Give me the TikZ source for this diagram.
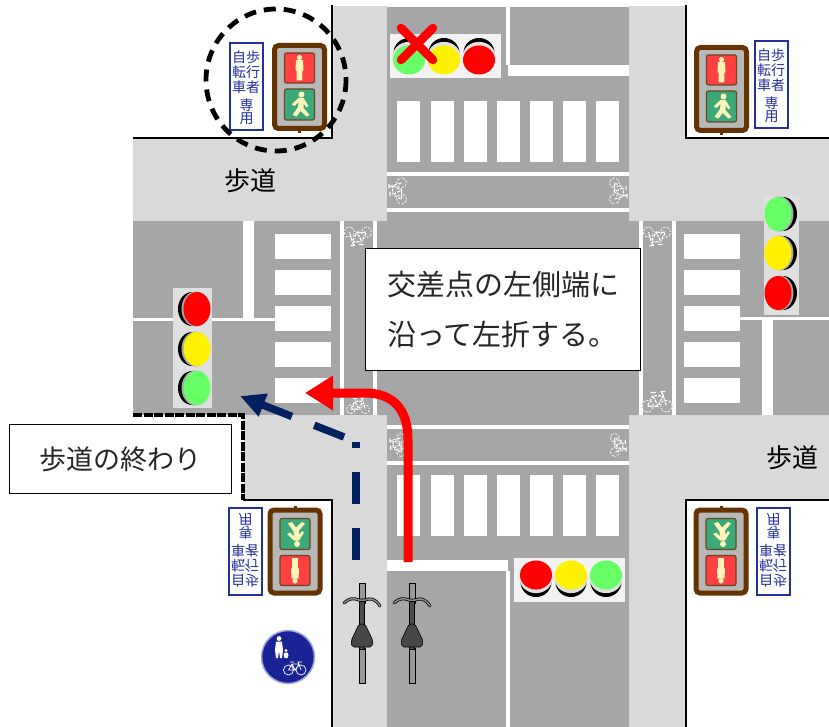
\documentclass[tikz,border=0pt]{standalone}
\usepackage{fontspec}
\newfontfamily\jp{Noto Sans CJK JP}
\usetikzlibrary{arrows.meta}
\definecolor{roadc}{HTML}{A6A6A6}
\definecolor{walkc}{HTML}{D9D9D9}
\definecolor{brownc}{HTML}{663300}
\definecolor{innerc}{HTML}{B8B8B8}
\definecolor{lampr}{HTML}{FF4040}
\definecolor{lampg}{HTML}{3CAA78}
\definecolor{creamc}{HTML}{FFF4B8}
\definecolor{signb}{HTML}{24309C}
\definecolor{navyc}{HTML}{002060}
\definecolor{greenl}{HTML}{66FF66}
\definecolor{discb}{HTML}{1A2396}
% horizontal signal lamp: x y colour dy
\newcommand{\lamph}[4]{%
  \fill[black] (#1,#2+#4) ellipse [x radius=15.5,y radius=15];
  \fill[white!88!black] (#1,#2+0.45*#4) ellipse [x radius=16.5,y radius=15];
  \fill[#3] (#1,#2) ellipse [x radius=16,y radius=14.5];
}
% vertical signal lamp: x y colour dx
\newcommand{\lampv}[4]{%
  \fill[black] (#1+#4,#2) ellipse [x radius=14,y radius=17];
  \fill[gray!70] (#1+0.3*#4,#2) ellipse [x radius=14,y radius=17.5];
  \fill[#3] (#1,#2) ellipse [x radius=13.5,y radius=17];
}
\tikzset{
  x=1pt,y=-1pt,
  roadfill/.style={fill=roadc},
  walkfill/.style={fill=walkc},
  paintfill/.style={fill=white},
  curb/.style={draw=black,line width=2.8pt,line join=miter},
  callout/.style={draw=black,line width=1.4pt,fill=white,text=black!85},
  sidewalk label/.style={font=\jp\fontsize{26}{30}\selectfont,text=black},
  signtext/.style={font=\jp\fontsize{14}{15}\selectfont,text=signb,align=center,inner sep=0pt},
  pics/cyc/.style={code={
    \draw[white,line width=.9pt,dash pattern=on 3pt off .7pt] (-9,4) circle (5.5) (9,4) circle (5.5);
    \draw[white,line width=1.2pt] (-9,4) -- (-4,-6) -- (6,-6) -- (9,4) (-4,-6) -- (1,4) -- (6,-6) (-9,4)--(1,4) (-6,-9)--(-1,-9) (6,-6)--(4,-10)--(8,-10);
    \draw[black!65,line width=.5pt,dash pattern=on 1pt off 3pt] (-9,4) circle (5.5) (9,4) circle (5.5) (-9,4) -- (-4,-6) -- (6,-6) -- (9,4) (-4,-6) -- (1,4) -- (6,-6);
  }},
  pics/pedsig/.style={code={
    \fill[brownc] (-1.5,43) rectangle (1.5,46);
    \draw[brownc,line width=5pt,fill=innerc,rounded corners=4pt] (-25,-41.5) rectangle (25,41.5);
    \draw[brownc!75!gray,line width=1.2pt,fill=lampr,rounded corners=2pt] (-15,-34) rectangle (15,-4);
    \draw[brownc!75!gray,line width=1.2pt,fill=lampg,rounded corners=2pt] (-15,2) rectangle (15,33);
    % standing figure
    \fill[creamc] (0,-29.5) circle (2.6);
    \fill[creamc] (-3.5,-27) -- (3.5,-27) -- (4,-17) -- (2.8,-16) -- (2.8,-6.5) -- (-2.8,-6.5) -- (-2.8,-16) -- (-4,-17) -- cycle;
    % walking figure
    \fill[creamc] (2,7.5) circle (3);
    \fill[creamc] (-1,11) -- (4,11) -- (9,19) -- (7,20.5) -- (4,16.5) -- (4,21) -- (10,28) -- (7,29.5) -- (1,24) -- (-3,29.5) -- (-7,28) -- (-1.5,20) -- (-1,15) -- (-5,19) -- (-8,17.5) -- cycle;
  }},
  pics/panel/.style={code={
    \draw[signb,line width=1.4pt,fill=white] (-16.5,-43.5) rectangle (16.5,43.5);
    \node[signtext] (#1r) at (6.5,-14.5) {歩\\行\\者};
    \node[signtext] (#1l) at (-7.5,-14.5) {自\\転\\車};
    \node[signtext] (#1b) at (0,25.5) {専\\[-2pt]用};
  }},
  pics/cycletop/.style={code={
    \draw[black,fill=gray!80,line width=.8pt] (-3,0) rectangle (3,20);
    \draw[black,fill=gray!80,line width=.8pt] (-3,65) rectangle (3,100);
    \draw[black,fill=gray!60!black,line width=.8pt] (-2.4,18) rectangle (2.4,66);
    \draw[black,line width=3pt,line cap=round] (-18,20) .. controls (-13,15) and (-8,15) .. (-3,17) -- (3,17) .. controls (8,15) and (13,15) .. (18,23);
    \draw[gray!90,line width=1.5pt,line cap=round] (-18,20) .. controls (-13,15) and (-8,15) .. (-3,17) -- (3,17) .. controls (8,15) and (13,15) .. (18,23);
    \draw[black,fill=black!72,line width=.6pt,rounded corners=2pt] (-3,41) -- (3,41) -- (11,58) -- (10,64) -- (-10,64) -- (-11,58) -- cycle;
  }},
}
\begin{document}
\begin{tikzpicture}
\useasboundingbox (0,0) rectangle (829,727);
\fill[white] (0,0) rectangle (829,727);
% roads
\fill[roadfill] (387,7) rectangle (629,727);
\fill[roadfill] (133,221) rectangle (829,415);
% sidewalks
\fill[walkfill] (133,139) rectangle (387,221);
\fill[walkfill] (629,139) rectangle (829,221);
\fill[walkfill] (243,415) rectangle (387,500);
\fill[walkfill] (629,415) rectangle (829,500);
\fill[walkfill] (333,6) rectangle (387,139);
\fill[walkfill] (629,6) rectangle (686,139);
\fill[walkfill] (333,500) rectangle (387,727);
\fill[walkfill] (629,500) rectangle (686,727);
% road markings
\fill[paintfill] (506,7) rectangle (510,65);
\fill[paintfill] (508,65) rectangle (629,76);
\fill[paintfill] (387,560) rectangle (508,571);
\fill[paintfill] (506,571) rectangle (510,727);
\foreach \xx in {397,431,464,497,530,563,596}{
  \fill[paintfill] (\xx,101) rectangle (\xx+23,162);
  \fill[paintfill] (\xx,475) rectangle (\xx+23,536);
}
\foreach \yy in {172,208,425,461}{\fill[paintfill] (387,\yy) rectangle (629,\yy+4);}
\foreach \xx in {340,373,639,672}{\fill[paintfill] (\xx,221) rectangle (\xx+4,415);}
\foreach \yy in {234,270,306,342,378}{
  \fill[paintfill] (275,\yy) rectangle (331,\yy+24.5);
  \fill[paintfill] (684,\yy) rectangle (740,\yy+24.5);
}
\fill[paintfill] (133,318) rectangle (275,321);
\fill[paintfill] (243,221) rectangle (254,318);
\fill[paintfill] (740,317) rectangle (829,320);
\fill[paintfill] (762,320) rectangle (773,415);
% bicycle pictograms
\pic[rotate=180,scale=.95] at (358,236) {cyc};
\pic[rotate=180,scale=.95] at (657,236) {cyc};
\pic[scale=.8] at (358,406) {cyc};
\pic[scale=1.05] at (657,402) {cyc};
\pic[rotate=90,scale=.9] at (398,191) {cyc};
\pic[rotate=-90,scale=.9] at (618,191) {cyc};
\pic[rotate=90,scale=.8] at (398,445) {cyc};
\pic[rotate=-90,scale=.8] at (618,445) {cyc};
% curbs
\draw[curb] (332,5) -- (332,138) -- (133,138);
\draw[curb] (686,5) -- (686,138) -- (829,138);
\draw[curb] (243,500) -- (332,500) -- (332,727);
\draw[curb] (829,500) -- (686,500) -- (686,727);
\draw[curb,line width=3.5pt,dash pattern=on 9pt off 1.5pt] (133,415) -- (243,415) -- (243,500);
% vehicle signals
\fill[gray!10] (390,34) rectangle (501,78);
\lamph{409}{60}{greenl}{-7}
\lamph{444}{60}{yellow}{-7}
\lamph{479}{60}{red}{-7}
\fill[gray!10] (514,558) rectangle (625,602);
\lamph{536}{575}{red}{7}
\lamph{571}{575}{yellow}{7}
\lamph{606}{575}{greenl}{7}
\fill[gray!25] (173,288) rectangle (212,408);
\lampv{197}{309}{red}{-5}
\lampv{197}{349}{yellow}{-5}
\lampv{197}{388}{greenl}{-5}
\fill[gray!25] (764,196) rectangle (799,315);
\lampv{778}{214}{greenl}{5}
\lampv{778}{253}{yellow}{5}
\lampv{778}{293}{red}{5}
% cross on the top signal
\coordinate (xa) at (401,28);
\coordinate (xb) at (433,60);
\coordinate (xc) at (433,28);
\coordinate (xd) at (401,60);
\draw[red,line width=8.5pt,line cap=round] (xa) -- (xb) (xc) -- (xd);
% pedestrian signals and panels
\pic at (299.5,87) {pedsig};
\pic at (721.5,89) {pedsig};
\pic[yscale=-1,transform shape] at (295,551.5) {pedsig};
\pic[yscale=-1,transform shape] at (721,551.5) {pedsig};
\pic at (246.5,86.5) {panel=pa};
\pic at (771.5,84.5) {panel=pb};
\pic[yscale=-1,transform shape] at (245.5,551.5) {panel=pc};
\pic[yscale=-1,transform shape] at (773.5,551.5) {panel=pd};
% dashed circle
\draw[black,line width=4.8pt,dash pattern=on 12pt off 8pt] (276,80) ellipse [x radius=70,y radius=71];
% labels
\node[sidewalk label] (w1) at (250,181) {歩道};
\node[sidewalk label] (w2) at (792,458) {歩道};
\node[callout,font=\jp\fontsize{29}{50}\selectfont,align=left,inner xsep=21.5pt,minimum height=122pt,anchor=north west] (c1) at (365,248) {交差点の左側端に\\沿って左折する。};
\node[callout,font=\jp\fontsize{27}{50}\selectfont,minimum width=222pt,minimum height=69pt,anchor=north west] (c2) at (9,424) {歩道の終わり};
% arrows
\coordinate (rs) at (408,562);
\coordinate (rt) at (305,393);
\draw[red,line width=9pt,-{Triangle[length=28pt,width=33pt]}] (rs) -- (408,440) .. controls (408,408) and (392,393) .. (365,393) -- (rt);
\coordinate (ns) at (356,560);
\coordinate (nm) at (356,442);
\coordinate (nd) at (344,437);
\coordinate (nt) at (240,396);
\draw[navyc,line width=7.5pt,dash pattern=on 32pt off 24pt] (ns) -- (nm);
\draw[navyc,line width=7.5pt,dash pattern=on 32pt off 24pt,-{Triangle[length=25pt,width=23pt]}] (nd) -- (nt);
% bicycles
\pic at (362,583) {cycletop};
\pic at (412,583) {cycletop};
% blue sign
\draw[discb!40!white,line width=1.5pt,fill=discb] (288,657) circle (26.5);
\fill[white] (279,638.5) circle (2.4);
\fill[white] (276,641.5) -- (282,641.5) -- (283,650) -- (282,658) -- (280,658) -- (279,651) -- (278,658) -- (276,658) -- (275,650) -- cycle;
\fill[white] (286,650.5) circle (1.7);
\fill[white] (284.5,652.5) -- (287.5,652.5) -- (288.5,655) -- (287.5,658) -- (284.5,658) -- (283.5,655) -- cycle;
\draw[white,line width=.7pt] (288.5,670) circle (5) (301,670) circle (5) (288.5,670) -- (292,664) -- (299,664) -- (301,670) (292,664) -- (295,670) -- (299,664) (288.5,670) -- (295,670) (290,662) -- (294,662) (299,664) -- (298,662) -- (302,662);
\end{tikzpicture}
\end{document}
